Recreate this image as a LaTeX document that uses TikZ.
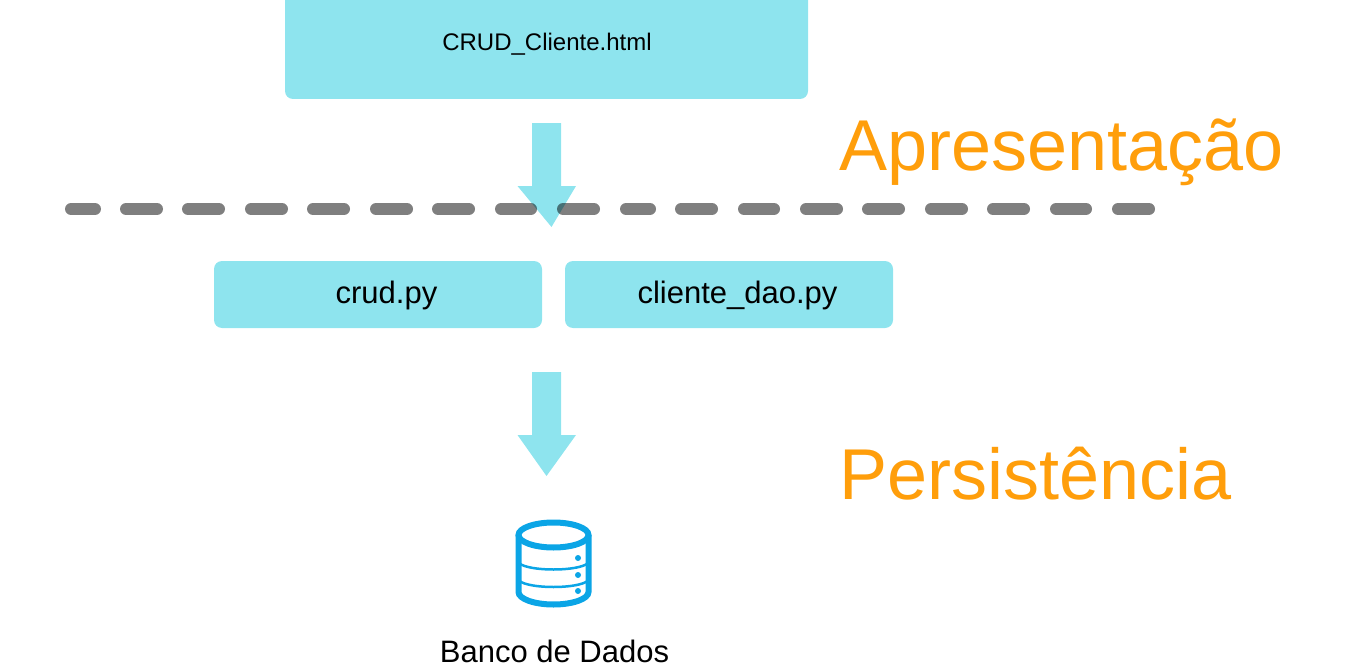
\documentclass[tikz,border=0pt]{standalone}
\usepackage{fontspec}
\setmainfont{Liberation Sans}
\definecolor{boxc}{HTML}{8EE4EE}
\definecolor{orangec}{HTML}{FF9E0B}
\definecolor{dbc}{HTML}{0BA5E6}
\tikzset{
  box/.style={fill=boxc,draw=none,rounded corners=8pt,minimum height=67pt,inner sep=0pt},
  boxtext/.style={inner sep=0pt,anchor=base,font=\fontsize{31}{36}\selectfont},
  layerlabel/.style={text=orangec,font=\fontsize{72}{84}\selectfont,inner sep=0pt,anchor=base west},
  flow/.style={fill=boxc,draw=none},
  dashseg/.style={draw=black,draw opacity=.5,line width=12pt,line cap=round},
  dbline/.style={draw=dbc,line width=2.5pt},
  dbthick/.style={draw=dbc,line width=6pt},
}
\begin{document}
\begin{tikzpicture}[x=1pt,y=-1pt]
\useasboundingbox (0,0) rectangle (1345,669);
% top box (cut off by the page edge)
\fill[boxc,rounded corners=8pt] (285,-20) rectangle (808,99);
\node[inner sep=0pt,anchor=base,font=\fontsize{24}{28}\selectfont] (crudhtml) at (547,50.5) {CRUD\_Cliente.html};
% arrows
\fill[flow] (532,123) -- (561,123) -- (561,186) -- (576,186) -- (551.5,227) -- (517.5,186) -- (532,186) -- cycle;
\fill[flow] (532,372) -- (561,372) -- (561,435) -- (576,435) -- (546.5,476) -- (517.5,435) -- (532,435) -- cycle;
% dashes
\foreach \a/\b in {71/95,126/157,188/219,251/282,313/344,376/407,438/469,501/531,563/594,626/650,681/712,744/774,806/837,868/899,931/962,993/1024,1056/1086,1118/1149}
  \draw[dashseg] (\a,209) -- (\b,209);
% middle boxes
\node[box,minimum width=328pt] (crud) at (378,294.5) {};
\node[box,minimum width=328pt] (dao) at (729,294.5) {};
\node[boxtext] (crudt) at (386.5,303) {crud.py};
\node[boxtext] (daot) at (737.5,303) {cliente\_dao.py};
% layer labels
\node[layerlabel] (apres) at (839,170) {Apresentação};
\node[layerlabel] (pers) at (839,499.5) {Persistência};
% database icon
\draw[dbthick] (518.5,535) -- (518.5,592) arc[start angle=180,end angle=0,x radius=35,y radius=12.5] -- (588.5,535);
\draw[dbthick] (553.5,535) ellipse[x radius=35,y radius=12.5];
\draw[dbline] (518.5,561.5) arc[start angle=180,end angle=0,x radius=35,y radius=8];
\draw[dbline] (518.5,579) arc[start angle=180,end angle=0,x radius=35,y radius=8];
\fill[dbc] (578,558) circle (3) (578,575) circle (3) (578,591) circle (3);
\node[boxtext] (dblabel) at (554.5,662) {Banco de Dados};
\end{tikzpicture}
\end{document}
